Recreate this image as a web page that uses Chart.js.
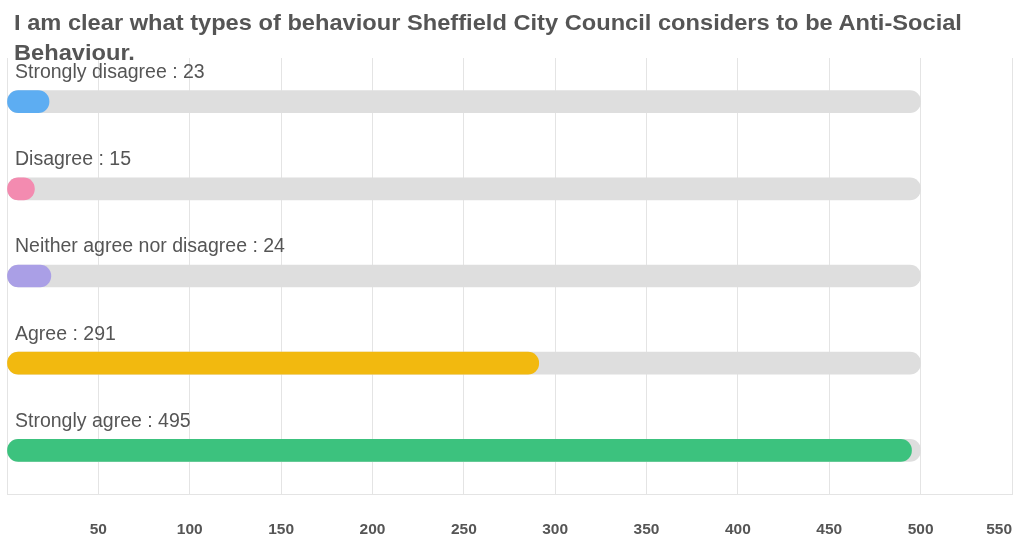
<!DOCTYPE html>
<html>
<head>
<meta charset="utf-8">
<script src="https://cdn.jsdelivr.net/npm/chart.js@4/dist/chart.umd.min.js"></script>
<style>
  body { margin: 0; background: #fff; }
  #wrap { position: relative; width: 1016px; height: 538px; }
  #title {
    position: absolute; left: 14px; top: 8px;
    font: bold 21.5px "Liberation Sans", Arial, sans-serif;
    line-height: 30px; color: #555; z-index: 2; white-space: nowrap;
    transform: scaleX(1.1); transform-origin: left top;
  }
</style>
</head>
<body>
<div id="wrap">
  <div id="title">I am clear what types of behaviour Sheffield City Council considers to be Anti-Social<br>Behaviour.</div>
  <canvas id="chart"></canvas>
</div>
<script>
const categories = ['Strongly disagree', 'Disagree', 'Neither agree nor disagree', 'Agree', 'Strongly agree'];
const responses = [23, 15, 24, 291, 495];
const trackValues = [500, 500, 500, 500, 500];
const barColors = ['#5dadf2', '#f38bb0', '#aa9fe6', '#f2b90f', '#3cc27e'];
const tickMax = 550;
const tickStep = 50;

// draws "Category : value" above each bar
const labelPlugin = {
  id: 'barLabels',
  afterDatasetsDraw(chart) {
    const ctx = chart.ctx;
    const x = chart.scales.x;
    const y = chart.scales.y;
    ctx.save();
    ctx.font = '19.5px "Liberation Sans", Arial, sans-serif';
    ctx.fillStyle = '#555';
    ctx.textBaseline = 'middle';
    ctx.textAlign = 'left';
    categories.forEach((c, i) => {
      ctx.fillText(c + ' : ' + responses[i], x.getPixelForValue(0) + 8, y.getPixelForValue(i) - 29);
    });
    ctx.restore();
  }
};

new Chart(document.getElementById('chart'), {
  type: 'bar',
  data: {
    labels: categories,
    datasets: [
      {
        data: trackValues,
        backgroundColor: '#dedede',
        borderRadius: 11,
        borderSkipped: false,
        barThickness: 22,
        grouped: false,
        order: 2
      },
      {
        data: responses,
        backgroundColor: barColors,
        borderRadius: 11,
        borderSkipped: false,
        barThickness: 22,
        grouped: false,
        order: 1
      }
    ]
  },
  options: {
    indexAxis: 'y',
    responsive: true,
    maintainAspectRatio: false,
    animation: false,
    layout: { padding: { top: 58, left: 7, right: 4, bottom: 0 } },
    plugins: { legend: { display: false }, tooltip: { enabled: false } },
    scales: {
      x: {
        min: 0,
        max: tickMax,
        grid: { color: '#e4e4e4', drawTicks: false },
        border: { color: '#e4e4e4' },
        ticks: {
          stepSize: tickStep,
          padding: 26,
          align: 'inner',
          color: '#555',
          font: { family: '"Liberation Sans", Arial, sans-serif', size: 15.5, weight: 'bold' },
          callback: v => v === 0 ? '' : v
        },
        afterFit: s => { s.paddingLeft = 0; s.paddingRight = 0; s.height = 44; }
      },
      y: { display: false }
    }
  },
  plugins: [labelPlugin]
});
</script>
</body>
</html>
